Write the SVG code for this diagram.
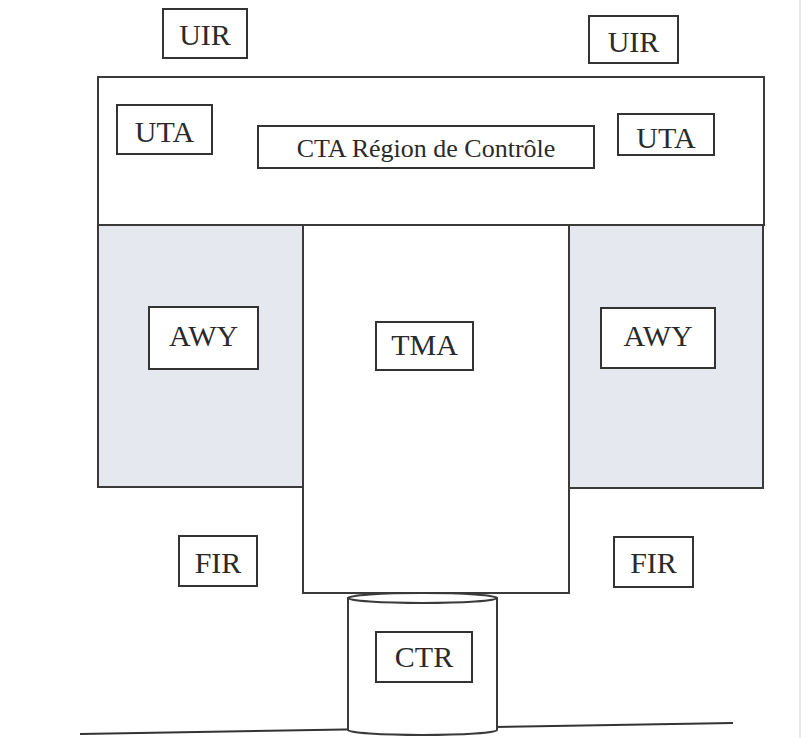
<svg xmlns="http://www.w3.org/2000/svg" width="812" height="738" viewBox="0 0 812 738">
<style>
.box{fill:#ffffff;stroke:#333333;stroke-width:2}
.zone{fill:#ffffff;stroke:#3a3a3a;stroke-width:2}
.awy{fill:#e5e9ef;stroke:#3a3a3a;stroke-width:2}
.lbl{font-family:"Liberation Serif","Times New Roman",serif;font-size:30px;fill:#2a2a2a;text-anchor:middle}
.cta{font-family:"Liberation Serif","Times New Roman",serif;font-size:26px;fill:#2a2a2a;text-anchor:middle}
</style>
<rect x="0" y="0" width="812" height="738" fill="#ffffff"/>
<line x1="800" y1="0" x2="800" y2="738" stroke="#e2e2e2" stroke-width="1.5"/>
<g id="ground">
<line x1="80" y1="734" x2="733" y2="723" stroke="#333333" stroke-width="2"/>
</g>
<g id="cta-zone">
<rect class="zone" x="98" y="77" width="666" height="148"/>
</g>
<g id="awy-left-zone">
<rect class="awy" x="98" y="225" width="205" height="262"/>
</g>
<g id="awy-right-zone">
<rect class="awy" x="569" y="225" width="194" height="263"/>
</g>
<g id="tma-zone">
<rect class="zone" x="303" y="225" width="266" height="368"/>
</g>
<g id="ctr-zone">
<path class="zone" d="M348,598 L348,730 A74.5,5 0 0 0 497,730 L497,598 Z"/>
<ellipse class="zone" cx="422.5" cy="598" rx="74.5" ry="5"/>
</g>
<g id="uir-left">
<rect class="box" x="163" y="9" width="84" height="49"/>
<text class="lbl" x="205" y="45">UIR</text>
</g>
<g id="uir-right">
<rect class="box" x="589" y="16" width="89" height="47"/>
<text class="lbl" x="633.5" y="52">UIR</text>
</g>
<g id="uta-left">
<rect class="box" x="117" y="105" width="95" height="49"/>
<text class="lbl" x="164.5" y="142">UTA</text>
</g>
<g id="uta-right">
<rect class="box" x="618" y="114" width="96" height="41"/>
<text class="lbl" x="666" y="148">UTA</text>
</g>
<g id="cta">
<rect class="box" x="258" y="126" width="336" height="42"/>
<text class="cta" x="426" y="157">CTA Région de Contrôle</text>
</g>
<g id="awy-left">
<rect class="box" x="149" y="307" width="109" height="62"/>
<text class="lbl" x="203.5" y="346">AWY</text>
</g>
<g id="awy-right">
<rect class="box" x="601" y="308" width="114" height="60"/>
<text class="lbl" x="658" y="346">AWY</text>
</g>
<g id="tma">
<rect class="box" x="376" y="322" width="97" height="48"/>
<text class="lbl" x="424.5" y="355">TMA</text>
</g>
<g id="fir-left">
<rect class="box" x="179" y="536" width="78" height="50"/>
<text class="lbl" x="218" y="573">FIR</text>
</g>
<g id="fir-right">
<rect class="box" x="614" y="537" width="79" height="50"/>
<text class="lbl" x="653.5" y="573">FIR</text>
</g>
<g id="ctr">
<rect class="box" x="376" y="632" width="96" height="50"/>
<text class="lbl" x="424" y="667">CTR</text>
</g>
<g id="connectors"></g>
</svg>
